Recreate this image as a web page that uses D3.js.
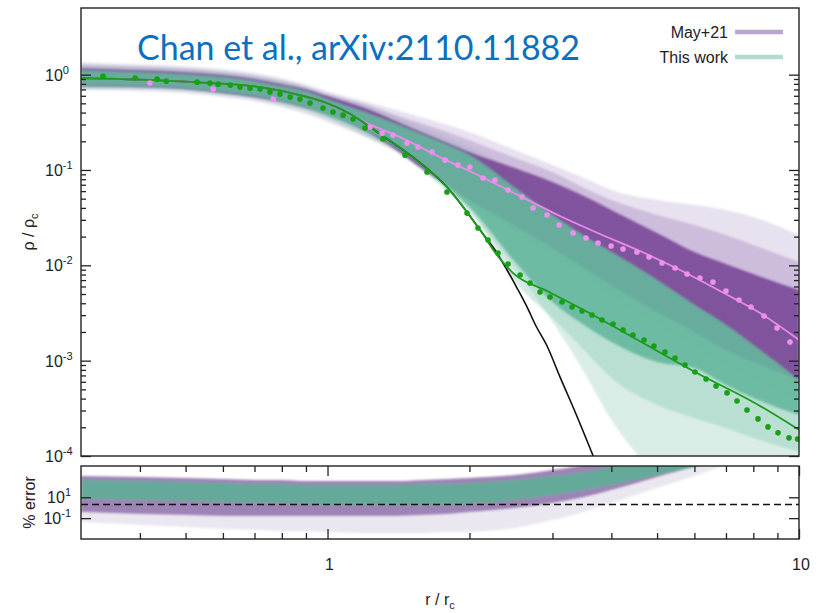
<!DOCTYPE html>
<html><head><meta charset="utf-8">
<script src="https://cdn.jsdelivr.net/npm/d3@7"></script>
<style>body{margin:0;background:#fff}svg{display:block}</style>
</head><body><svg id="c" width="823" height="613"></svg>
<script>
// ---------- data ----------
// radius grid (r / r_c) for the ensemble envelopes
const bandR = [0.3,0.4,0.5,0.6,0.7,0.8,0.9,1,1.2,1.4,1.6,1.8,2,2.5,3,3.5,4,5,6,7,8,10];
// log10(rho/rho_c) envelopes of the May+21 profiles
const mayOuterHi = [0.131,0.11,0.089,0.058,0.016,-0.037,-0.1,-0.173,-0.278,-0.372,-0.456,-0.529,-0.603,-0.791,-0.949,-1.085,-1.211,-1.316,-1.368,-1.42,-1.494,-1.682];
const mayOuterLo = [-0.162,-0.173,-0.194,-0.236,-0.278,-0.341,-0.414,-0.498,-0.655,-0.812,-1.001,-1.179,-1.336,-1.651,-1.902,-2.123,-2.322,-2.626,-2.856,-3.045,-3.2,-3.465];
const mayMidHi = [0.1,0.079,0.058,0.026,-0.016,-0.068,-0.131,-0.204,-0.309,-0.425,-0.519,-0.603,-0.687,-0.875,-1.022,-1.19,-1.316,-1.473,-1.578,-1.682,-1.787,-1.965];
const mayCoreHi = [0.068,0.047,0.026,-0.005,-0.047,-0.1,-0.152,-0.225,-0.351,-0.488,-0.613,-0.718,-0.812,-0.98,-1.127,-1.274,-1.42,-1.661,-1.861,-1.986,-2.091,-2.259];
const mayCoreLo = [-0.121,-0.131,-0.152,-0.194,-0.236,-0.288,-0.351,-0.425,-0.592,-0.791,-1.001,-1.169,-1.316,-1.588,-1.819,-2.028,-2.207,-2.49,-2.699,-2.888,-3.014,-3.203];
// log10(rho/rho_c) envelopes of the profiles from this work
const thisOuterHi = [0.11,0.089,0.068,0.037,-0.005,-0.058,-0.121,-0.204,-0.32,-0.445,-0.561,-0.666,-0.76,-1.022,-1.316,-1.546,-1.713,-1.944,-2.133,-2.29,-2.448,-2.71];
const thisOuterLo = [-0.152,-0.152,-0.173,-0.215,-0.257,-0.32,-0.383,-0.466,-0.645,-0.812,-1.022,-1.232,-1.452,-2.028,-2.594,-3.118,-3.622,-4.146,-4.25,-4.25,-4.25,-4.25];
const thisMidLo = [-0.142,-0.142,-0.162,-0.204,-0.246,-0.309,-0.372,-0.456,-0.624,-0.791,-1.001,-1.211,-1.42,-2.175,-2.553,-2.888,-3.181,-3.464,-3.601,-3.706,-3.81,-3.957];
const thisCoreHi = [0.047,0.026,0.005,-0.026,-0.068,-0.121,-0.173,-0.257,-0.393,-0.519,-0.634,-0.739,-0.844,-1.19,-1.473,-1.693,-1.861,-2.154,-2.416,-2.626,-2.835,-3.202];
const thisCoreLo = [-0.11,-0.121,-0.142,-0.183,-0.225,-0.278,-0.341,-0.425,-0.582,-0.76,-0.97,-1.179,-1.389,-1.965,-2.385,-2.626,-2.804,-3.014,-3.077,-3.255,-3.391,-3.569];

// log10(% error) envelopes
const errFaintHi = [3.04,2.95,2.85,2.75,2.66,2.66,2.56,2.56,2.56,2.56,2.66,2.75,2.85,3.14,3.62,4.10,4.77,5.92,7.07,8.41,9.56,11.77];
const errFaintLo = [-1.37,-1.66,-1.85,-2.04,-2.14,-2.23,-2.23,-2.33,-2.42,-2.42,-2.42,-2.33,-2.33,-1.94,-1.18,-0.41,0.45,1.89,3.04,4.10,5.05,6.97];
const mayErrLo = [-0.41,-0.60,-0.70,-0.79,-0.79,-0.79,-0.79,-0.79,-0.79,-0.79,-0.70,-0.60,-0.41,-0.03,0.45,1.03,1.70,2.95,4.0,5.05,6.01,7.93];
const thisErrHi = [2.66,2.56,2.47,2.37,2.27,2.27,2.18,2.18,2.18,2.18,2.27,2.27,2.37,2.66,3.04,3.42,3.90,4.77,5.53,6.49,7.45,9.37];
const thisErrLo = [0.84,0.74,0.64,0.55,0.45,0.45,0.36,0.26,0.26,0.26,0.26,0.26,0.36,0.74,1.22,1.70,2.18,3.14,3.90,4.77,5.53,7.45];
const errRef = 2;

// cored profile
const coreR   = [0.3,0.4,0.519,0.719,0.874,1.0,1.172,1.311,1.518,1.792,2.107,2.266,2.403,2.523,2.649,2.768,2.915,3.112,3.365,3.66];
const coreRho = [0.919,0.886,0.834,0.740,0.610,0.5,0.3334,0.2266,0.1365,0.0662,0.02344,0.01446,0.00893,0.00578,0.00366,0.00231,0.00146,0.000675,0.000276,0.0001];
// outer parts of the two fitted profiles
const greenTailR   = [2.288,2.474,2.921,3.431,4.317,5.961,8.268,10];
const greenTailRho = [0.01282,0.0083,0.00538,0.00357,0.001905,0.00078,0.000335,0.000188];
const pinkTailR   = [1.425,1.732,2.106,2.561,3.112,3.784,4.600,5.593,6.800,8.268,10];
const pinkTailRho = [0.2213,0.1365,0.0863,0.0532,0.0329,0.02129,0.01412,0.00893,0.00538,0.00316,0.00165];

// binned profiles (points)
const greenDots = [[0.334,0.964],[0.391,0.919],[0.435,0.897],[0.455,0.855],[0.529,0.834],[0.563,0.815],[0.586,0.795],[0.622,0.776],[0.652,0.740],[0.685,0.722],[0.719,0.705],[0.755,0.656],[0.793,0.625],[0.833,0.581],[0.874,0.554],[0.918,0.503],[0.978,0.446],[1.027,0.405],[1.079,0.376],[1.133,0.342],[1.201,0.275],[1.311,0.211],[1.460,0.143],[1.626,0.0951],[1.792,0.0587],[1.976,0.0353],[2.085,0.0246],[2.190,0.0184],[2.299,0.01345],[2.415,0.01032],[2.561,0.00791],[2.689,0.00652],[2.823,0.00525],[2.964,0.00465],[3.143,0.00412],[3.301,0.00366],[3.466,0.00332],[3.639,0.00301],[3.821,0.00267],[4.032,0.00242],[4.234,0.0021],[4.445,0.00186],[4.691,0.00165],[4.925,0.001426],[5.197,0.001234],[5.458,0.001067],[5.730,0.000902],[6.017,0.000761],[6.351,0.000643],[6.668,0.000543],[7.036,0.000459],[7.388,0.000378],[7.757,0.000304],[8.185,0.000245],[8.594,0.000202],[9.026,0.000175],[9.524,0.000155],[9.93,0.000151]];
const pinkDots = [[0.420,0.815],[0.572,0.705],[0.767,0.554],[1.231,0.2817],[1.305,0.2435],[1.377,0.2321],[1.474,0.1914],[1.556,0.1738],[1.666,0.154],[1.775,0.127],[1.891,0.1125],[2.005,0.1073],[2.137,0.0823],[2.266,0.0784],[2.415,0.0616],[2.585,0.052],[2.729,0.0399],[2.921,0.0337],[3.097,0.02645],[3.317,0.0218],[3.534,0.01933],[3.747,0.01713],[3.994,0.01594],[4.234,0.01482],[4.533,0.01379],[4.807,0.01222],[5.122,0.01057],[5.458,0.00937],[5.787,0.00811],[6.166,0.00736],[6.569,0.00668],[7.0,0.00538],[7.461,0.00433],[7.911,0.00366],[8.431,0.00294],[8.981,0.0022],[9.570,0.00157]];

// axis ticks
const rhoMajor = [1e-4,1e-3,1e-2,1e-1,1];
const rhoExp = ["-4","-3","-2","-1","0"];
const rMajor = [1,10];
const rMinor = [0.4,0.5,0.6,0.7,0.8,0.9,2,3,4,5,6,7,8,9];
const errMajor = [10,0.1];
const errExp = ["1","-1"];
const legendNames = ["May+21","This work"];

// ---------- drawing ----------
const svg = d3.select("#c");
const FONT = "'Liberation Sans', Arial, sans-serif";
const x = d3.scaleLog().domain([0.3,10]).range([81,799]);
const y = d3.scaleLog().domain([1e-4,5]).range([456,8]);
const ye = d3.scaleLog().domain([1e-3,1e4]).range([539,466]);

const defs = svg.append("defs");
defs.append("clipPath").attr("id","clipMain").append("rect")
  .attr("x",x.range()[0]).attr("y",y.range()[1]).attr("width",x.range()[1]-x.range()[0]).attr("height",y.range()[0]-y.range()[1]);
defs.append("clipPath").attr("id","clipErr").append("rect")
  .attr("x",x.range()[0]).attr("y",ye.range()[1]).attr("width",x.range()[1]-x.range()[0]).attr("height",ye.range()[0]-ye.range()[1]);
defs.append("filter").attr("id","soft").attr("x","-5%").attr("y","-5%").attr("width","110%").attr("height","110%")
  .append("feGaussianBlur").attr("stdDeviation",1.1);

function bandArea(sc, lo, hi) {
  return d3.area().curve(d3.curveMonotoneX)
    .x((d,i)=>x(bandR[i])).y0((d,i)=>sc(Math.pow(10,lo[i]))).y1((d,i)=>sc(Math.pow(10,hi[i])))(bandR);
}

// main panel: faint envelopes first, denser envelopes on top
const gMain = svg.append("g").attr("clip-path","url(#clipMain)");
const gBands = gMain.append("g").attr("filter","url(#soft)");
gBands.append("path").attr("d",bandArea(y,mayOuterLo,mayOuterHi)).attr("fill","#ab93c4").attr("fill-opacity",0.28);
gBands.append("path").attr("d",bandArea(y,thisOuterLo,thisOuterHi)).attr("fill","#8fcab6").attr("fill-opacity",0.34);
gBands.append("path").attr("d",bandArea(y,mayCoreLo,mayMidHi)).attr("fill","#9a78b8").attr("fill-opacity",0.35);
gBands.append("path").attr("d",bandArea(y,thisMidLo,thisCoreHi)).attr("fill","#7cc2ab").attr("fill-opacity",0.35);
gBands.append("path").attr("d",bandArea(y,mayCoreLo,mayCoreHi)).attr("fill","#7a4898").attr("fill-opacity",0.9);
gBands.append("path").attr("d",bandArea(y,thisCoreLo,thisCoreHi)).attr("fill","#66b79d").attr("fill-opacity",0.9);

const line = d3.line().curve(d3.curveMonotoneX).x(d=>x(d[0])).y(d=>y(d[1]));
const corePts = coreR.map((r,i)=>[r,coreRho[i]]);
const greenPts = corePts.filter(d=>d[0]<2.2).concat(greenTailR.map((r,i)=>[r,greenTailRho[i]]));
const pinkPts = corePts.filter(d=>d[0]<1.3).concat(pinkTailR.map((r,i)=>[r,pinkTailRho[i]]));
gMain.append("path").attr("d",line(corePts)).attr("fill","none").attr("stroke","#111").attr("stroke-width",1.6);
gMain.append("path").attr("d",line(pinkPts)).attr("fill","none").attr("stroke","#e98ae9").attr("stroke-width",1.8);
gMain.append("path").attr("d",line(greenPts)).attr("fill","none").attr("stroke","#1c9a1c").attr("stroke-width",1.8);
gMain.selectAll("circle.pk").data(pinkDots).join("circle").attr("class","pk")
  .attr("cx",d=>x(d[0])).attr("cy",d=>y(d[1])).attr("r",2.8).attr("fill","#ef8fef");
gMain.selectAll("circle.gr").data(greenDots).join("circle").attr("class","gr")
  .attr("cx",d=>x(d[0])).attr("cy",d=>y(d[1])).attr("r",2.8).attr("fill","#15a015");

// error panel
const gErr = svg.append("g").attr("clip-path","url(#clipErr)");
const gErrB = gErr.append("g").attr("filter","url(#soft)");
gErrB.append("path").attr("d",bandArea(ye,errFaintLo,errFaintHi)).attr("fill","#cdc2da").attr("fill-opacity",0.4);
gErrB.append("path").attr("d",bandArea(ye,mayErrLo,errFaintHi)).attr("fill","#7d5a9c").attr("fill-opacity",0.7);
gErrB.append("path").attr("d",bandArea(ye,thisErrLo,thisErrHi)).attr("fill","#5fae98").attr("fill-opacity",0.9);
gErr.append("line").attr("x1",x.range()[0]).attr("x2",x.range()[1]).attr("y1",ye(errRef)).attr("y2",ye(errRef))
  .attr("stroke","#111").attr("stroke-width",1.5).attr("stroke-dasharray","7,4");

// frames
[y, ye].forEach(sc=>{
  svg.append("rect").attr("x",x.range()[0]).attr("y",sc.range()[1]).attr("width",x.range()[1]-x.range()[0])
    .attr("height",sc.range()[0]-sc.range()[1]).attr("fill","none").attr("stroke","#222").attr("stroke-width",1.4);
});

function ticks(axis, tx, ty, vals, size) {
  const g = svg.append("g").attr("transform",`translate(${tx},${ty})`)
    .call(axis.tickValues(vals).tickSize(size).tickFormat(""));
  g.select(".domain").remove();
  g.selectAll(".tick line").attr("stroke","#222").attr("stroke-width",1.3);
}
// main panel y ticks (inside, both sides)
const rhoMinor = y.ticks().filter(v=>v<1 && !rhoMajor.includes(v));
ticks(d3.axisRight(y), x.range()[0], 0, rhoMajor, 10);
ticks(d3.axisRight(y), x.range()[0], 0, rhoMinor, 5);
ticks(d3.axisLeft(y), x.range()[1], 0, rhoMajor, 10);
ticks(d3.axisLeft(y), x.range()[1], 0, rhoMinor, 5);
// error panel ticks
ticks(d3.axisBottom(x), 0, ye.range()[1], rMajor, 10);
ticks(d3.axisBottom(x), 0, ye.range()[1], rMinor, 6);
ticks(d3.axisTop(x), 0, ye.range()[0], rMajor, 10);
ticks(d3.axisTop(x), 0, ye.range()[0], rMinor, 6);
ticks(d3.axisRight(ye), x.range()[0], 0, errMajor, 10);
ticks(d3.axisLeft(ye), x.range()[1], 0, errMajor, 10);

// tick labels
const lab = svg.append("g").attr("font-family",FONT).attr("font-size",16).attr("fill","#222");
rhoMajor.forEach((v,i)=>{
  const t = lab.append("text").attr("x",45).attr("y",y(v)+6);
  t.append("tspan").text("10");
  t.append("tspan").attr("dy",-7).attr("font-size",11).text(rhoExp[i]);
});
errMajor.forEach((v,i)=>{
  const t = lab.append("text").attr("x",71).attr("y",ye(v)+6).attr("text-anchor","end");
  t.append("tspan").text("10");
  t.append("tspan").attr("dy",-7).attr("font-size",11).text(errExp[i]);
});
rMajor.forEach(v=>{
  lab.append("text").attr("x",x(v)+2).attr("y",570).attr("text-anchor","middle").text(d3.format("d")(v));
});

// axis titles
const xt = lab.append("text").attr("x",(x.range()[0]+x.range()[1])/2).attr("y",605).attr("text-anchor","middle");
xt.append("tspan").text("r / r");
xt.append("tspan").attr("dy",4).attr("font-size",11).text("c");
const yt = lab.append("text").attr("transform",`translate(34,${(y.range()[0]+y.range()[1])/2}) rotate(-90)`).attr("text-anchor","middle");
yt.append("tspan").text("ρ / ρ");
yt.append("tspan").attr("dy",4).attr("font-size",11).text("c");
lab.append("text").attr("transform",`translate(35,${(ye.range()[0]+ye.range()[1])/2}) rotate(-90)`)
  .attr("text-anchor","middle").text("% error");

// legend
const legColors = ["#b9a6cc","#b4dccb"];
legendNames.forEach((n,i)=>{
  const ly = 32 + i*25;
  lab.append("text").attr("x",728).attr("y",ly+5.5).attr("text-anchor","end").text(n);
  svg.append("line").attr("x1",735).attr("x2",783).attr("y1",ly).attr("y2",ly)
    .attr("stroke",legColors[i]).attr("stroke-width",4.5);
});

// citation
svg.append("text").attr("x",137).attr("y",60).attr("font-family","Lato, 'Open Sans', sans-serif")
  .attr("font-size",34).attr("fill","#0a70c0").attr("textLength",443).attr("lengthAdjust","spacingAndGlyphs")
  .text("Chan et al., arXiv:2110.11882");
</script></body></html>
